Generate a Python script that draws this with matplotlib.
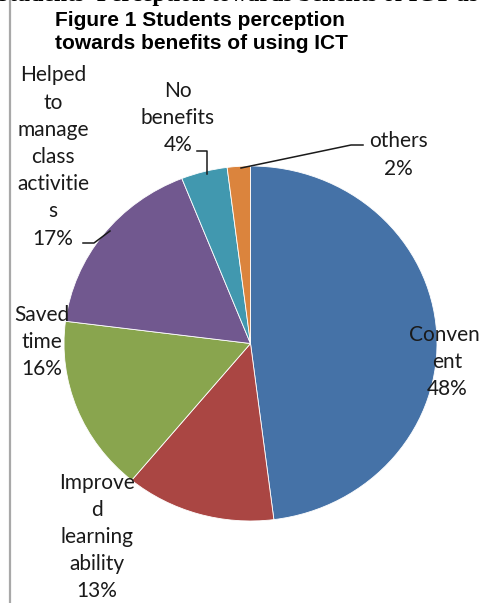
import matplotlib.pyplot as plt
from matplotlib.lines import Line2D
from matplotlib.patches import Rectangle

# survey answers (labels wrapped the way the chart shows them)
categories = ['Conveni\nent', 'Improve\nd\nlearning\nability', 'Saved\ntime',
              'Helped\nto\nmanage\nclass\nactivitie\ns', 'No\nbenefits', 'others']
shares = [48, 13, 16, 17, 4, 2]
colors = ['#4572A7', '#AA4643', '#89A54E', '#71588F', '#4198AF', '#DB843D']

W, H = 481, 603
fig = plt.figure(figsize=(W / 100, H / 100), dpi=100)


def px(x, y):
    # pixel position (top-left origin) -> figure fraction
    return x / W, 1 - y / H


# chart-area border, runs off the right and bottom edges
fig.patches.append(Rectangle(px(10, H + 10), W, H, transform=fig.transFigure,
                             fill=False, edgecolor='#A8A8A8', linewidth=1.6))

# heading of the page above the chart, mostly cut off
fig.text(*px(-4, 1.5), "Students' Perception towards benefits of ICT use",
         family='Liberation Serif', weight='bold', fontsize=17,
         ha='left', va='baseline')

fig.text(*px(55, 32), 'Figure 1 Students perception\ntowards benefits of using ICT',
         family='Liberation Sans', weight='bold', fontsize=15,
         ha='left', va='center', linespacing=1.25)

# pie box in pixels: left, top, right, bottom
L, T, R, B = 64, 166, 437, 521
ax = fig.add_axes([L / W, 1 - B / H, (R - L) / W, (B - T) / H])
ax.pie(shares, colors=colors, startangle=90, counterclock=False,
       wedgeprops=dict(edgecolor='white', linewidth=0.6))
ax.set_aspect('auto')
ax.set_xlim(-1, 1)
ax.set_ylim(-1, 1)

# label centres in pixels
label_pos = [(447, 362), (97, 537), (42, 342), (53, 157), (178, 118), (398, 155)]
for name, val, (x, y) in zip(categories, shares, label_pos):
    fig.text(*px(x, y), f'{name}\n{val}%', family='Lato', fontsize=15,
             color='#1a1a1a', ha='center', va='center', linespacing=1.45)

# leader lines
leaders = [
    [(83, 243), (94, 243), (110, 231)],
    [(197, 151), (207, 151), (207, 174)],
    [(363, 145), (351, 145), (241, 168)],
]
for pts in leaders:
    xs, ys = zip(*[px(x, y) for x, y in pts])
    fig.add_artist(Line2D(xs, ys, transform=fig.transFigure, color='#1a1a1a', linewidth=1.1))

fig.savefig('out.png', dpi=100)
